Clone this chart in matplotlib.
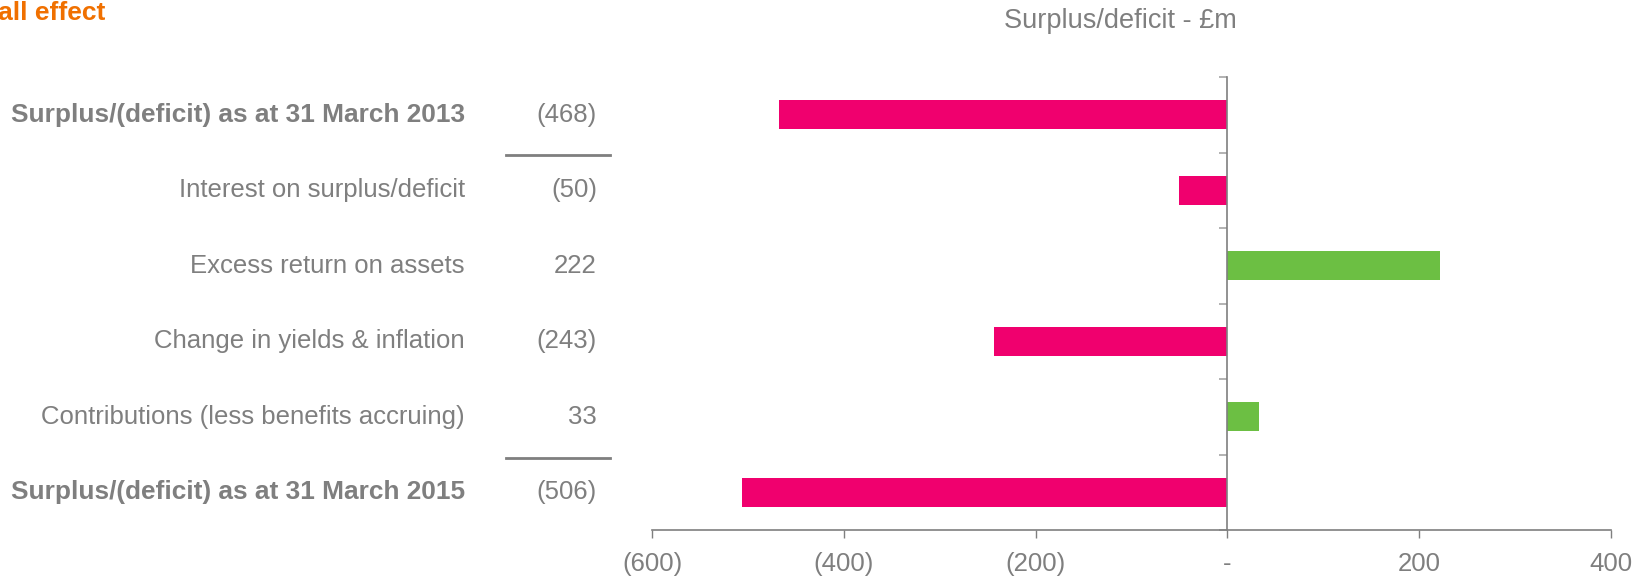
import matplotlib.pyplot as plt
from matplotlib.ticker import FuncFormatter

plt.rcParams['font.family'] = ['Liberation Sans', 'DejaVu Sans']

labels = ['Surplus/(deficit) as at 31 March 2013', 'Interest on surplus/deficit',
          'Excess return on assets', 'Change in yields & inflation',
          'Contributions (less benefits accruing)', 'Surplus/(deficit) as at 31 March 2015']
values = [-468, -50, 222, -243, 33, -506]
value_text = ['(468)', '(50)', '222', '(243)', '33', '(506)']
bold_rows = [0, 5]

pink = '#F0006E'
green = '#6CBF43'
grey = '#7F7F7F'
fs = 18.5

fig = plt.figure(figsize=(16.45, 5.77), dpi=100)
ax = fig.add_axes([652 / 1645, 1 - 530 / 577, 959 / 1645, 453 / 577])

pos = list(range(len(values)))
colors = [pink if v < 0 else green for v in values]
ax.barh(pos, values, height=0.39, color=colors, zorder=2)

ax.set_xlim(-600, 400)
ax.set_ylim(5.5, -0.5)

# spines
for s in ['top', 'right']:
    ax.spines[s].set_visible(False)
ax.spines['left'].set_position(('data', 0))
ax.spines['left'].set_color(grey)
ax.spines['bottom'].set_color(grey)
ax.spines['left'].set_linewidth(1.2)
ax.spines['bottom'].set_linewidth(1.2)

ax.set_yticks([i - 0.5 for i in range(len(values) + 1)])
ax.set_yticklabels([])
ax.tick_params(axis='y', length=6, color='#A6A6A6', width=1.2)

ax.set_xticks([-600, -400, -200, 0, 200, 400])
ax.xaxis.set_major_formatter(FuncFormatter(
    lambda v, p: '-' if v == 0 else ('(%d)' % abs(v) if v < 0 else '%d' % v)))
ax.tick_params(axis='x', length=6, color=grey, width=1.0, labelsize=fs,
               labelcolor=grey, pad=10)

# row labels and values
tr = ax.get_yaxis_transform()
for i, lab in enumerate(labels):
    bold = i in bold_rows
    ax.text(-0.195, i, lab, transform=tr, ha='right', va='center',
            fontsize=18.9 if bold else fs, color=grey,
            fontweight='bold' if bold else 'normal')
    ax.text(-0.0574, i, value_text[i], transform=tr, ha='right', va='center',
            fontsize=fs, color=grey)

# separator lines
for y in [0.53, 4.55]:
    ax.plot([-0.152, -0.0438], [y, y], transform=tr, color=grey, lw=2, clip_on=False)

fig.text(1120 / 1645, 1 - 21 / 577, 'Surplus/deficit - £m', ha='center', va='center',
         fontsize=19.5, color=grey)
fig.text(105 / 1645, 1 - 13 / 577, 'Overall effect', ha='right', va='center',
         fontsize=19, color='#F07000', fontweight='bold')

fig.savefig('out.png', dpi=100)
